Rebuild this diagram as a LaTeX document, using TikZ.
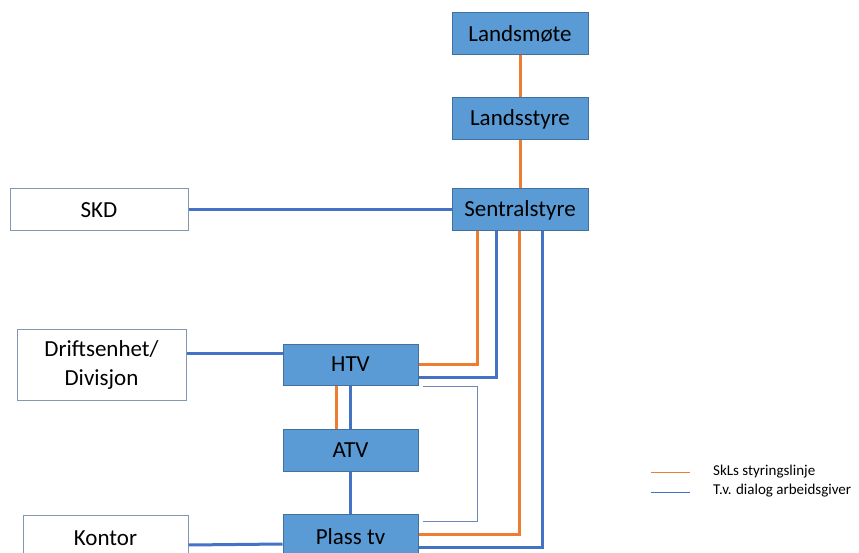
\documentclass[tikz,border=0pt]{standalone}
\usepackage{fontspec}
\setmainfont{Carlito}
\usetikzlibrary{calc}
\definecolor{boxfill}{HTML}{5B9BD5}
\definecolor{boxedge}{HTML}{41719C}
\definecolor{whiteedge}{HTML}{8497B0}
\definecolor{orgline}{HTML}{ED7D31}
\definecolor{bluline}{HTML}{4472C4}
\definecolor{thinline}{HTML}{6F86BC}
\tikzset{
  bluebox/.style={draw=boxedge, line width=1pt, fill=boxfill, minimum width=136pt, minimum height=42pt, inner sep=0pt, font=\fontsize{23}{27}\selectfont, text=black},
  whitebox/.style={draw=whiteedge, line width=1pt, fill=white, inner sep=0pt, font=\fontsize{23}{29}\selectfont, text=black},
  orgc/.style={draw=orgline, line width=3pt},
  bluc/.style={draw=bluline, line width=3pt},
  thinc/.style={draw=thinline, line width=1pt},
  legtext/.style={anchor=west, inner sep=0pt, font=\fontsize{15}{18}\selectfont, text=black}
}
\begin{document}
\begin{tikzpicture}[x=1pt,y=-1pt]
\useasboundingbox (0,0) rectangle (859,553);
\clip (0,0) rectangle (859,553);
% nodes
\node[bluebox] (lm) at (520,34) {Landsmøte};
\node[bluebox] (ls) at (520,119) {Landsstyre};
\node[bluebox] (sen) at (520,210) {Sentralstyre};
\node[whitebox, minimum width=178pt, minimum height=42pt] (skd) at (99,210) {SKD};
\node[whitebox, minimum width=169pt, minimum height=71pt, align=center] (dri) at (101.5,364.5) {Driftsenhet/\\Divisjon};
\node[bluebox, minimum width=135pt, minimum height=41pt] (htv) at (350.5,364.5) {HTV};
\node[bluebox, minimum width=135pt, minimum height=42pt] (atv) at (350.5,450) {ATV};
\node[bluebox, minimum width=135pt, minimum height=46pt] (ptv) at (350.5,537) {Plass tv};
\node[whitebox, minimum width=165pt, minimum height=46pt] (kon) at (105.5,538) {Kontor};
% orange lines
\draw[orgc] (lm.south) -- (ls.north);
\draw[orgc] (ls.south) -- (sen.north);
\draw[orgc] ($(sen.south)+(-43,0)$) |- ($(htv.east)+(0,-0.5)$);
\draw[orgc] ($(sen.south)+(-1,0)$) |- ($(ptv.east)+(0,-3)$);
\draw[orgc] ($(htv.south)+(-14.5,0)$) -- ($(atv.north)+(-14.5,0)$);
% blue lines
\draw[bluc] (skd.east) -- (sen.west);
\draw[bluc] ($(sen.south)+(-24,0)$) |- ($(htv.east)+(0,12.5)$);
\draw[bluc] ($(sen.south)+(22,0)$) |- ($(ptv.east)+(0,10)$);
\draw[bluc] (htv.south) -- (atv.north);
\draw[bluc] (atv.south) -- (ptv.north);
\draw[bluc] ($(dri.east)+(0,-11.5)$) -- ($(htv.west)+(0,-11.5)$);
\draw[bluc] ($(kon.east)+(0,7)$) -- ($(ptv.west)+(0,7)$);
% thin bracket
\draw[thinc] ($(htv.south east)+(4,1)$) -- ($(htv.south east)+(59,1)$) |- ($(ptv.north east)+(4,8)$);
% legend
\coordinate (lo1) at (651,472);
\coordinate (lo2) at (690,472);
\coordinate (lb1) at (651,492);
\coordinate (lb2) at (690,492);
\draw[orgline, line width=1pt] (lo1) -- (lo2);
\draw[bluline, line width=1pt] (lb1) -- (lb2);
\node[legtext] (lt1) at (713,472) {SkLs styringslinje};
\node[legtext] (lt2) at (713,491) {T.v. dialog arbeidsgiver};
\end{tikzpicture}
\end{document}
